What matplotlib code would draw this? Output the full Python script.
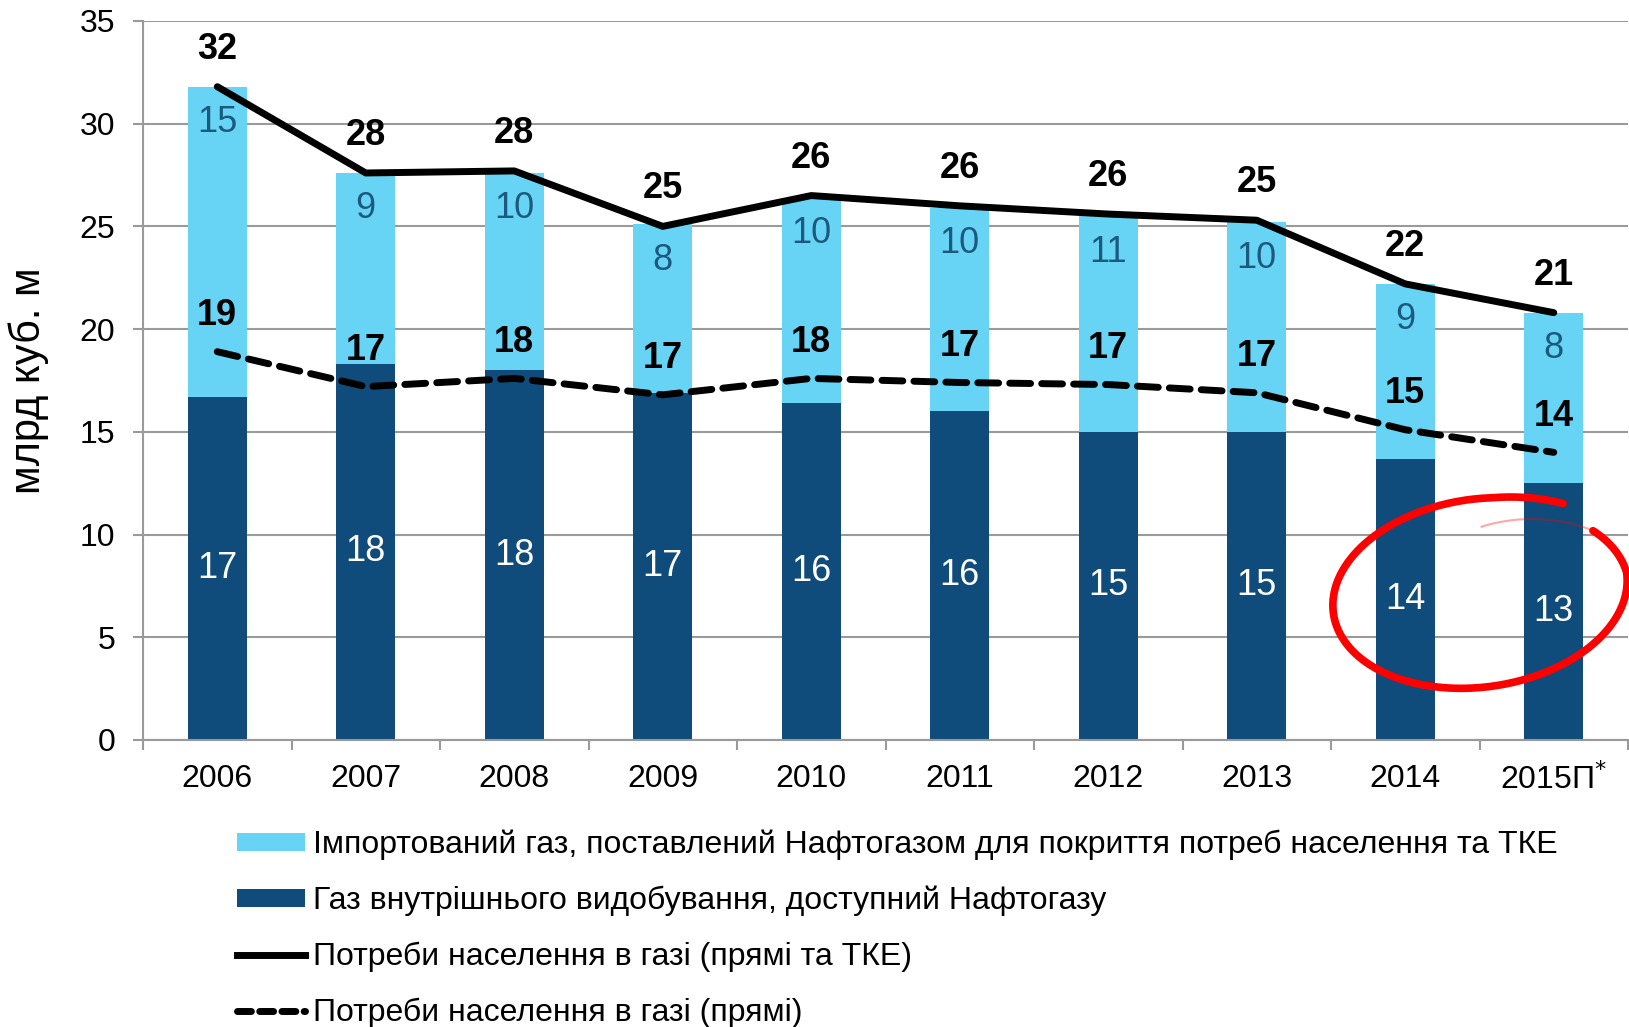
import numpy as np
import matplotlib
matplotlib.use("Agg")
import matplotlib.pyplot as plt
from matplotlib.lines import Line2D
from matplotlib.patches import Patch
from matplotlib.transforms import IdentityTransform

plt.rcParams['font.family'] = ['Liberation Sans', 'DejaVu Sans']

# ---- data (млрд куб. м) ----
years = ['2006', '2007', '2008', '2009', '2010', '2011', '2012', '2013', '2014', '2015П$^{*}$']
domestic = [16.7, 18.3, 18.0, 16.9, 16.4, 16.0, 15.0, 15.0, 13.7, 12.5]
imported = [15.1, 9.3, 9.6, 8.2, 10.0, 9.9, 10.5, 10.2, 8.5, 8.3]
need_total = [31.8, 27.6, 27.7, 25.0, 26.5, 26.0, 25.6, 25.3, 22.2, 20.8]
need_direct = [18.9, 17.2, 17.6, 16.8, 17.6, 17.4, 17.3, 16.9, 15.1, 14.0]

domestic_lbl = [17, 18, 18, 17, 16, 16, 15, 15, 14, 13]
imported_lbl = [15, 9, 10, 8, 10, 10, 11, 10, 9, 8]
total_lbl = [32, 28, 28, 25, 26, 26, 26, 25, 22, 21]
direct_lbl = [19, 17, 18, 17, 18, 17, 17, 17, 15, 14]

legend_labels = [
    'Імпортований газ, поставлений Нафтогазом для покриття потреб населення та ТКЕ',
    'Газ внутрішнього видобування, доступний Нафтогазу',
    'Потреби населення в газі (прямі та ТКЕ)',
    'Потреби населення в газі (прямі)',
]

LIGHT = '#67d4f5'
DARK = '#0f4c7b'
TEAL_TXT = '#1b5a7e'
GRID = '#9a9a9a'

fig = plt.figure(figsize=(16.29, 10.27), dpi=100)
ax = fig.add_axes([0.0878, 0.2795, 0.9116, 0.7001])

x = np.arange(len(years))
tops = np.array(domestic) + np.array(imported)

ax.bar(x, domestic, width=0.4, color=DARK, zorder=2)
ax.bar(x, imported, width=0.4, bottom=domestic, color=LIGHT, zorder=2)

ax.plot(x, need_total, color='black', lw=5, solid_capstyle='round', zorder=3)
ax.plot(x, need_direct, color='black', lw=5, dashes=(3, 1.6),
        dash_capstyle='round', zorder=3)

# labels
for i in x:
    ax.text(i, domestic[i] / 2, str(domestic_lbl[i]), ha='center', va='center',
            color='white', fontsize=26, zorder=4)
    ax.text(i, tops[i] - 1.75, str(imported_lbl[i]), ha='center', va='center',
            color=TEAL_TXT, fontsize=26, zorder=4)
    ax.annotate(str(total_lbl[i]), (i, need_total[i]), xytext=(0, 27),
                textcoords='offset points', ha='center', va='center',
                fontsize=26, fontweight='bold', zorder=5)
    ax.annotate(str(direct_lbl[i]), (i, need_direct[i]), xytext=(0, 26),
                textcoords='offset points', ha='center', va='center',
                fontsize=26, fontweight='bold', zorder=5)

ax.set_xlim(-0.5, len(years) - 0.5)
ax.set_ylim(0, 35)
ax.set_yticks(range(0, 36, 5))
ax.set_xticks(x)
ax.set_xticklabels(years)
ax.set_xticks(np.arange(-0.5, len(years)), minor=True)

ax.grid(axis='y', color=GRID, lw=1.5, zorder=0)
ax.set_axisbelow(True)
for s in ['top', 'right']:
    ax.spines[s].set_visible(False)
for s in ['left', 'bottom']:
    ax.spines[s].set_color(GRID)
    ax.spines[s].set_linewidth(1.5)

ax.tick_params(axis='y', length=7, width=1.5, color=GRID, pad=13, labelsize=23)
ax.tick_params(axis='x', which='major', length=0, pad=17, labelsize=23)
ax.tick_params(axis='x', which='minor', length=7, width=1.5, color=GRID)

ax.set_ylabel('млрд куб. м', fontsize=30, labelpad=22)

handles = [
    Patch(facecolor=LIGHT),
    Patch(facecolor=DARK),
    Line2D([], [], color='black', lw=5),
    Line2D([], [], color='black', lw=5, dashes=(2, 1.2), dash_capstyle='round'),
]
fig.legend(handles, legend_labels, loc='upper left', bbox_to_anchor=(0.1455, 0.192),
           frameon=False, labelspacing=0.8, handlelength=2.13,
           handleheight=0.45, handletextpad=0.25, borderpad=0, borderaxespad=0,
           prop={'family': ['Liberation Sans'], 'size': 23})

# red hand-drawn circle around 2014 / 2015
cx, cy, a, b, phi = 1480, 593, 148, 94, np.radians(-8)


def ring(deg, r):
    t = np.radians(deg)
    ex = a * r * np.cos(t)
    ey = b * r * np.sin(t)
    px = cx + ex * np.cos(phi) - ey * np.sin(phi)
    py = cy + ex * np.sin(phi) + ey * np.cos(phi)
    return px, 1027 - py


deg_main = np.linspace(-52, -391, 300)
r_main = np.interp(deg_main, [-391, -360, -80, -52], [0.95, 1.0, 1.0, 1.04])
deg_tail = np.linspace(-391, -444, 60)
r_tail = np.interp(deg_tail, [-444, -391], [0.7, 0.95])

px, py = ring(deg_main, r_main)
fig.add_artist(Line2D(px, py, color='red', lw=5.5, solid_capstyle='round',
                      transform=IdentityTransform(), zorder=10))
px, py = ring(deg_tail, r_tail)
fig.add_artist(Line2D(px, py, color='red', lw=1.5, alpha=0.35,
                      transform=IdentityTransform(), zorder=10))

fig.savefig('out.png', dpi=100)
